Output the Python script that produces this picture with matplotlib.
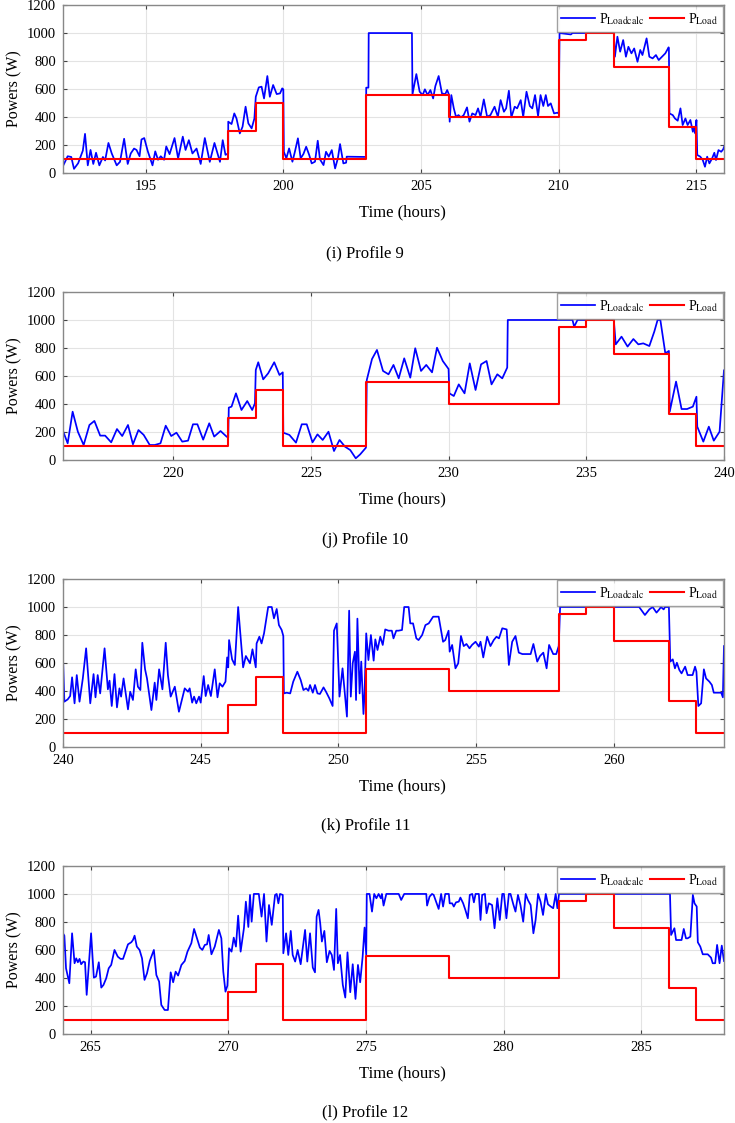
import matplotlib
matplotlib.use("Agg")
import matplotlib.pyplot as plt
import numpy as np

plt.rcParams['font.family'] = ['Liberation Serif', 'DejaVu Serif']
plt.rcParams['mathtext.fontset'] = 'stix'

# hourly load profile (W), same each day
load_profile = [100, 100, 100, 100, 100, 100, 300, 500, 100, 100, 100, 555,
                555, 555, 400, 400, 400, 400, 950, 1000, 760, 760, 330, 100]

starts = [192, 216, 240, 264]
captions = ["(i) Profile 9", "(j) Profile 10", "(k) Profile 11", "(l) Profile 12"]
xticks = [[195, 200, 205, 210, 215], [220, 225, 230, 235, 240],
          [240, 245, 250, 255, 260], [265, 270, 275, 280, 285]]

# estimated P_Loadcalc (hour, W)
calc9 = [(192.0, 50), (192.17, 120), (192.3, 115), (192.4, 30), (192.55, 70), (192.72, 160),
         (192.8, 280), (192.9, 55), (193.0, 165), (193.1, 65), (193.2, 145), (193.32, 55),
         (193.45, 115), (193.53, 90), (193.65, 215), (193.77, 140), (193.95, 55), (194.07, 80),
         (194.22, 245), (194.35, 65), (194.46, 140), (194.58, 175), (194.67, 165), (194.78, 120),
         (194.85, 240), (194.95, 250), (195.08, 155), (195.25, 55), (195.35, 155), (195.45, 95),
         (195.55, 120), (195.67, 95), (195.75, 190), (195.87, 135), (196.05, 250), (196.18, 105),
         (196.35, 260), (196.45, 165), (196.57, 235), (196.7, 140), (196.85, 175), (197.0, 65),
         (197.15, 250), (197.33, 80), (197.5, 215), (197.7, 80), (197.8, 235), (197.9, 130),
         (198.0, 140), (198.0, 367), (198.12, 350), (198.22, 426), (198.3, 390), (198.42, 283),
         (198.52, 331), (198.63, 474), (198.73, 355), (198.85, 319), (198.95, 390), (199.0, 545),
         (199.11, 612), (199.21, 617), (199.3, 533), (199.42, 693), (199.51, 545), (199.63, 629),
         (199.76, 564), (199.88, 569), (199.96, 605), (200.0, 598), (200.02, 152), (200.11, 105),
         (200.21, 176), (200.33, 81), (200.42, 152), (200.53, 248), (200.63, 105), (200.73, 136),
         (200.83, 188), (200.94, 129), (201.03, 69), (201.15, 81), (201.25, 231), (201.33, 98),
         (201.46, 57), (201.55, 152), (201.65, 117), (201.76, 164), (201.88, 33), (201.98, 105),
         (202.06, 207), (202.18, 69), (202.28, 74), (202.3, 117), (203.0, 115), (203.01, 610),
         (203.09, 610), (203.1, 1000), (204.67, 1000), (204.69, 562), (204.83, 707), (204.95, 581),
         (205.06, 557), (205.14, 598), (205.24, 557), (205.34, 593), (205.44, 533), (205.52, 621),
         (205.64, 693), (205.76, 569), (205.88, 564), (205.95, 593), (206.02, 557), (206.04, 367),
         (206.1, 557), (206.19, 462), (206.27, 402), (206.36, 414), (206.45, 398), (206.55, 414),
         (206.67, 469), (206.76, 367), (206.86, 426), (206.98, 414), (207.07, 462), (207.16, 402),
         (207.28, 526), (207.4, 402), (207.52, 414), (207.67, 474), (207.79, 402), (207.89, 521),
         (208.01, 438), (208.09, 462), (208.19, 588), (208.28, 398), (208.4, 474), (208.49, 462),
         (208.62, 521), (208.71, 402), (208.83, 581), (208.95, 479), (209.04, 462), (209.14, 557),
         (209.25, 407), (209.34, 557), (209.44, 479), (209.53, 557), (209.61, 479), (209.71, 498),
         (209.83, 426), (209.95, 431), (210.0, 426), (210.03, 1000), (210.44, 990), (210.5, 1000),
         (212.0, 1000), (212.04, 831), (212.13, 974), (212.23, 867), (212.34, 950), (212.44, 831),
         (212.53, 902), (212.64, 855), (212.74, 890), (212.86, 795), (212.96, 879), (213.04, 843),
         (213.19, 962), (213.29, 831), (213.41, 819), (213.53, 843), (213.63, 807), (213.75, 831),
         (213.87, 855), (213.99, 898), (214.0, 890), (214.02, 426), (214.14, 414), (214.22, 390),
         (214.32, 374), (214.42, 462), (214.5, 343), (214.6, 390), (214.68, 343), (214.78, 379),
         (214.87, 295), (214.93, 331), (214.96, 283), (215.0, 379), (215.03, 129), (215.14, 117),
         (215.23, 93), (215.31, 45), (215.39, 117), (215.47, 69), (215.57, 105), (215.65, 145),
         (215.71, 93), (215.8, 164), (215.9, 152), (215.97, 169), (216.05, 212)]

calc10 = [(216.0, 207), (216.17, 119), (216.35, 345), (216.54, 202), (216.75, 107), (216.96, 250),
          (217.14, 279), (217.35, 174), (217.53, 174), (217.75, 126), (217.96, 221), (218.15, 171),
          (218.36, 250), (218.54, 112), (218.74, 214), (218.93, 179), (219.15, 107), (219.33, 107),
          (219.54, 119), (219.73, 245), (219.93, 171), (220.12, 195), (220.33, 131), (220.54, 138),
          (220.72, 255), (220.88, 255), (221.09, 145), (221.31, 262), (221.49, 167), (221.72, 207),
          (221.94, 167), (222.0, 160), (222.02, 374), (222.12, 381), (222.28, 476), (222.48, 357),
          (222.69, 421), (222.87, 357), (222.97, 405), (223.0, 643), (223.09, 698), (223.27, 576),
          (223.45, 619), (223.67, 698), (223.86, 607), (223.98, 626), (224.0, 195), (224.22, 179),
          (224.46, 124), (224.67, 255), (224.85, 255), (225.06, 126), (225.24, 183), (225.43, 143),
          (225.64, 202), (225.84, 64), (226.04, 143), (226.24, 95), (226.43, 71), (226.63, 12),
          (226.79, 40), (227.0, 88), (227.03, 571), (227.22, 721), (227.4, 786), (227.62, 636),
          (227.82, 612), (228.0, 679), (228.19, 583), (228.39, 726), (228.61, 588), (228.79, 798),
          (229.0, 636), (229.19, 679), (229.4, 626), (229.58, 802), (229.79, 707), (230.0, 650),
          (230.03, 476), (230.19, 457), (230.37, 540), (230.58, 476), (230.77, 690), (230.98, 500),
          (231.18, 683), (231.38, 707), (231.56, 540), (231.77, 612), (231.95, 583), (232.13, 660),
          (232.15, 1000), (234.5, 1000), (234.56, 952), (234.68, 1000), (236.0, 1000), (236.07, 826),
          (236.28, 881), (236.5, 810), (236.71, 864), (236.89, 826), (237.07, 833), (237.29, 814),
          (237.47, 917), (237.59, 1000), (237.69, 1000), (237.87, 762), (238.0, 779), (238.03, 345),
          (238.26, 560), (238.46, 364), (238.66, 364), (238.87, 381), (239.0, 452), (239.03, 238),
          (239.25, 131), (239.45, 238), (239.63, 138), (239.84, 202), (240.0, 640)]

calc11 = [(240.0, 640), (240.05, 324), (240.17, 340), (240.26, 364), (240.33, 498), (240.42, 312),
          (240.5, 514), (240.6, 324), (240.72, 490), (240.84, 705), (240.99, 312), (241.11, 521),
          (241.18, 355), (241.26, 514), (241.35, 383), (241.51, 705), (241.63, 412), (241.69, 474),
          (241.77, 293), (241.87, 521), (241.96, 283), (242.05, 419), (242.11, 360), (242.2, 490),
          (242.36, 269), (242.44, 395), (242.54, 336), (242.64, 555), (242.72, 431), (242.81, 407),
          (242.88, 745), (242.98, 555), (243.05, 490), (243.21, 264), (243.33, 460), (243.39, 336),
          (243.49, 555), (243.61, 412), (243.73, 745), (243.81, 514), (243.91, 360), (244.06, 431),
          (244.21, 252), (244.3, 324), (244.42, 419), (244.54, 395), (244.6, 419), (244.69, 317),
          (244.76, 360), (244.84, 312), (244.94, 360), (245.0, 317), (245.11, 507), (245.18, 364),
          (245.27, 443), (245.37, 364), (245.51, 555), (245.61, 355), (245.69, 455), (245.79, 431),
          (245.9, 467), (245.96, 640), (246.0, 569), (246.03, 764), (246.14, 626), (246.24, 586),
          (246.36, 1000), (246.54, 569), (246.64, 650), (246.79, 598), (246.88, 698), (247.0, 569),
          (247.03, 740), (247.13, 788), (247.21, 740), (247.3, 812), (247.45, 1000), (247.58, 1000),
          (247.66, 919), (247.76, 986), (247.84, 871), (247.94, 836), (248.0, 793), (248.02, 383),
          (248.12, 388), (248.25, 383), (248.36, 467), (248.51, 538), (248.63, 479), (248.73, 407),
          (248.83, 419), (248.91, 402), (248.97, 443), (249.07, 388), (249.15, 443), (249.24, 383),
          (249.33, 379), (249.46, 426), (249.55, 395), (249.67, 348), (249.79, 293), (249.84, 831),
          (249.94, 883), (250.04, 360), (250.15, 562), (250.31, 217), (250.39, 974), (250.45, 360),
          (250.52, 598), (250.6, 681), (250.64, 336), (250.69, 917), (250.77, 383), (250.83, 610),
          (250.91, 236), (250.95, 383), (251.01, 812), (251.09, 621), (251.18, 800), (251.28, 617),
          (251.34, 769), (251.42, 693), (251.52, 788), (251.61, 729), (251.7, 840), (251.82, 831),
          (251.94, 831), (252.0, 776), (252.1, 831), (252.18, 831), (252.31, 836), (252.39, 1000),
          (252.55, 1000), (252.61, 883), (252.71, 883), (252.83, 776), (252.91, 764), (253.04, 800),
          (253.16, 871), (253.28, 883), (253.44, 931), (253.64, 931), (253.8, 752), (253.88, 764),
          (254.0, 831), (254.04, 681), (254.13, 729), (254.25, 562), (254.35, 598), (254.45, 793),
          (254.55, 721), (254.65, 736), (254.76, 705), (254.85, 729), (254.98, 752), (255.1, 717),
          (255.16, 752), (255.26, 640), (255.4, 788), (255.52, 721), (255.64, 764), (255.74, 788),
          (255.83, 776), (255.95, 848), (256.11, 840), (256.19, 586), (256.31, 752), (256.43, 793),
          (256.55, 674), (256.68, 664), (256.86, 664), (256.98, 664), (257.08, 736), (257.22, 610),
          (257.32, 650), (257.44, 674), (257.56, 562), (257.65, 729), (257.8, 664), (257.91, 664),
          (258.0, 721), (258.05, 1000), (260.92, 1000), (261.13, 943), (261.29, 983), (261.41, 1000),
          (261.55, 960), (261.65, 983), (261.71, 1000), (261.81, 983), (261.86, 1000), (262.0, 1000),
          (262.05, 610), (262.14, 626), (262.22, 562), (262.29, 602), (262.38, 550), (262.46, 526),
          (262.59, 574), (262.68, 514), (262.86, 514), (262.95, 574), (263.0, 538), (263.07, 293),
          (263.17, 312), (263.27, 555), (263.35, 490), (263.47, 467), (263.56, 443), (263.63, 388),
          (263.9, 388), (263.96, 355), (264.0, 721)]

calc12 = [(264.0, 719), (264.05, 702), (264.11, 469), (264.23, 362), (264.33, 719), (264.42, 505),
          (264.48, 540), (264.54, 512), (264.6, 536), (264.66, 498), (264.74, 517), (264.8, 512),
          (264.86, 279), (265.02, 719), (265.12, 402), (265.2, 410), (265.3, 512), (265.39, 331),
          (265.47, 350), (265.57, 398), (265.66, 469), (265.75, 493), (265.87, 600), (265.99, 552),
          (266.09, 536), (266.18, 536), (266.27, 588), (266.36, 640), (266.48, 655), (266.54, 671),
          (266.6, 702), (266.68, 624), (266.78, 600), (266.87, 540), (266.96, 386), (267.05, 433),
          (267.15, 521), (267.3, 600), (267.39, 421), (267.49, 374), (267.57, 207), (267.69, 171),
          (267.81, 171), (267.91, 440), (268.0, 369), (268.09, 445), (268.18, 417), (268.3, 493),
          (268.42, 521), (268.52, 588), (268.66, 648), (268.76, 750), (268.87, 679), (268.97, 617),
          (269.06, 600), (269.15, 636), (269.23, 640), (269.29, 707), (269.39, 569), (269.51, 624),
          (269.66, 743), (269.75, 683), (269.82, 445), (269.9, 302), (269.97, 345), (270.03, 612),
          (270.12, 588), (270.2, 688), (270.28, 624), (270.36, 845), (270.45, 588), (270.57, 755),
          (270.64, 945), (270.73, 764), (270.79, 993), (270.85, 802), (270.93, 1000), (271.11, 1000),
          (271.21, 838), (271.3, 1000), (271.39, 660), (271.48, 921), (271.58, 779), (271.7, 993),
          (271.76, 1000), (271.82, 933), (271.88, 1000), (271.98, 993), (272.0, 576), (272.1, 719),
          (272.18, 564), (272.27, 736), (272.34, 564), (272.43, 517), (272.52, 600), (272.63, 498),
          (272.79, 743), (272.87, 517), (272.97, 719), (273.07, 474), (273.15, 440), (273.21, 838),
          (273.28, 886), (273.34, 790), (273.4, 660), (273.49, 736), (273.58, 512), (273.68, 593),
          (273.76, 564), (273.84, 457), (273.92, 893), (273.98, 505), (274.06, 564), (274.16, 350),
          (274.25, 260), (274.33, 583), (274.43, 298), (274.52, 498), (274.62, 250), (274.71, 493),
          (274.79, 369), (274.88, 552), (274.95, 760), (275.01, 564), (275.03, 1000), (275.13, 1000),
          (275.22, 874), (275.3, 1000), (275.38, 969), (275.46, 1000), (275.54, 969), (275.58, 1000),
          (275.64, 917), (275.74, 1000), (276.19, 1000), (276.28, 957), (276.39, 1000), (277.19, 1000),
          (277.22, 917), (277.31, 981), (277.4, 1000), (277.46, 993), (277.64, 893), (277.73, 1000),
          (277.8, 910), (277.88, 1000), (278.01, 1000), (278.04, 933), (278.13, 933), (278.19, 910),
          (278.27, 940), (278.37, 945), (278.43, 974), (278.53, 933), (278.61, 886), (278.7, 826),
          (278.77, 993), (278.86, 1000), (278.92, 940), (278.98, 1000), (279.1, 1000), (279.16, 814),
          (279.22, 993), (279.32, 1000), (279.38, 862), (279.46, 933), (279.58, 921), (279.67, 755),
          (279.77, 969), (279.86, 814), (279.95, 1000), (280.01, 1000), (280.1, 826), (280.19, 1000),
          (280.25, 1000), (280.35, 926), (280.43, 874), (280.52, 993), (280.61, 921), (280.71, 802),
          (280.8, 1000), (280.88, 957), (280.98, 921), (281.08, 719), (281.16, 814), (281.25, 1000),
          (281.34, 945), (281.43, 850), (281.53, 1000), (281.61, 926), (281.71, 910), (281.8, 898),
          (281.89, 1000), (281.95, 898), (282.01, 1000), (286.04, 1000), (286.08, 707), (286.2, 755),
          (286.26, 671), (286.38, 671), (286.46, 671), (286.54, 750), (286.62, 683), (286.68, 683),
          (286.78, 695), (286.87, 993), (286.93, 933), (287.01, 910), (287.05, 655), (287.14, 624),
          (287.23, 569), (287.41, 569), (287.53, 545), (287.59, 505), (287.68, 505), (287.75, 636),
          (287.84, 505), (287.92, 631), (288.0, 521)]

calcs = [calc9, calc10, calc11, calc12]

fig = plt.figure(figsize=(7.35, 11.23), dpi=100)
bottoms = [0.8459, 0.5904, 0.3348, 0.0793]
cap_y = [0.7747, 0.5191, 0.2654, 0.0098]

for i in range(4):
    ax = fig.add_axes([0.0857, bottoms[i], 0.8993, 0.1496])
    st = starts[i]
    cal = np.array(calcs[i]).T
    hrs = st + np.arange(25)
    ld = load_profile + [load_profile[-1]]
    ax.plot(cal[0], cal[1], color='#0000ff', lw=1.25, label=r'P$_{\mathrm{Loadcalc}}$')
    ax.step(hrs, ld, where='post', color='#ff0000', lw=1.5, label=r'P$_{\mathrm{Load}}$')
    ax.set_xlim(st, st + 24)
    ax.set_ylim(0, 1200)
    ax.set_xticks(xticks[i])
    ax.set_yticks(range(0, 1201, 200))
    ax.grid(True, color='#e3e3e3', lw=0.8)
    ax.set_axisbelow(True)
    ax.tick_params(direction='in', top=True, right=True, labelsize=10.5, length=3,
                   color='#444444', pad=5)
    for s in ax.spines.values():
        s.set_color('#888888')
        s.set_linewidth(1.0)
    ax.set_xlabel('Time (hours)', fontsize=12, labelpad=8)
    ax.xaxis.set_label_coords(0.513, -0.185)
    ax.set_ylabel('Powers (W)', fontsize=11.5, labelpad=3)
    leg = ax.legend(loc='upper right', ncol=2, fontsize=10, frameon=True, fancybox=False,
                    borderaxespad=0.1, handlelength=2.4, columnspacing=0.45,
                    handletextpad=0.3, borderpad=0.35)
    leg.get_frame().set_edgecolor('#888888')
    leg.get_frame().set_linewidth(1.0)
    fig.text(0.497, cap_y[i], captions[i], ha='center', va='center', fontsize=12)

fig.savefig('out.png', dpi=100)
